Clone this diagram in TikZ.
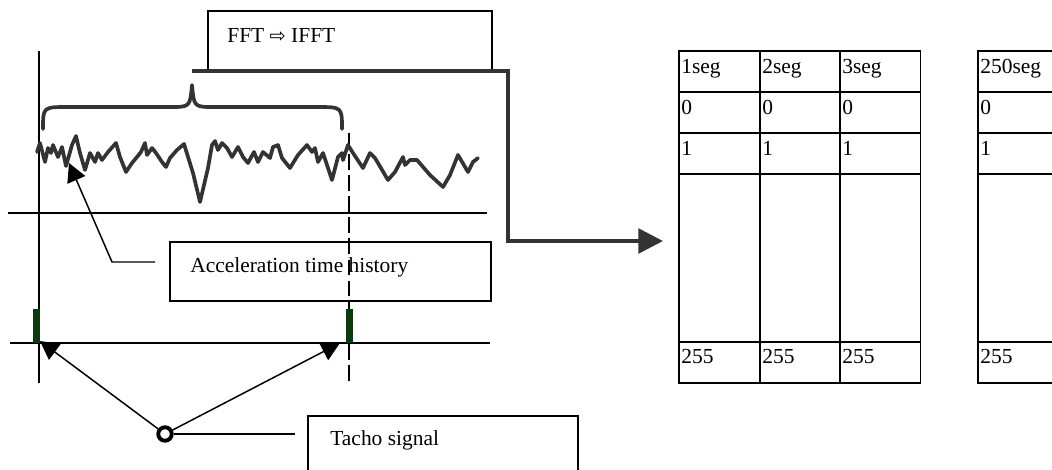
\documentclass[tikz,border=0pt]{standalone}
\usepackage{fontspec}
\setmainfont{Liberation Serif}
\newfontfamily\symfont{DejaVu Sans}
\usetikzlibrary{arrows.meta}
\definecolor{wavegray}{HTML}{333333}
\definecolor{tachogreen}{HTML}{0B3A0B}
\tikzset{
  box/.style={draw, line width=0.9pt, anchor=north west, inner sep=0pt},
  lbl/.style={anchor=base west, inner sep=0pt, font=\fontsize{12.2pt}{14pt}\selectfont},
  cell/.style={draw, line width=1.1pt},
  axis/.style={line width=0.85pt},
  wave/.style={wavegray, line width=2.1pt, line join=round, line cap=round},
  flow/.style={wavegray, line width=2.1pt, -{Triangle[length=14pt,width=14pt]}},
  pointer/.style={line width=0.85pt, -{Triangle[length=10.5pt,width=11pt]}}
}
\begin{document}
\begin{tikzpicture}[x=0.02cm, y=-0.02cm]
    \clip (0,0) rectangle (1052,470);
    % Time history axes
    \draw[axis] (39,51) -- (39,383);
    \draw[axis] (8,213) -- (487,213);
    \draw[axis] (10,343) -- (490,343);
    \draw[axis, dashed, dash pattern=on 9pt off 3pt] (349,133) -- (349,382);
    \draw[wave] plot coordinates {(37,152) (40,143) (45,162) (48,148) (51,153) (53,145) (58,157) (62,147) (66,166) (72,145) (76,136) (80,153) (85,170) (90,153) (95,162) (98,153) (102,160) (108,152) (116,143) (120,157) (126,172) (132,163) (137,157) (141,152) (145,143) (147,155) (152,148) (156,153) (162,162) (166,167) (170,158) (177,150) (184,144) (193,173) (200,202) (208,168) (212,145) (215,141) (218,150) (222,143) (227,148) (232,157) (238,147) (243,157) (248,163) (254,152) (258,162) (263,152) (270,158) (273,147) (278,145) (282,158) (290,168) (298,155) (307,145) (312,152) (315,148) (318,162) (323,153) (332,180) (338,157) (342,153) (343,160) (348,145) (353,153) (363,168) (370,153) (375,158) (388,180) (395,172) (403,157) (405,165) (410,160) (417,160) (430,175) (443,187) (450,175) (458,155) (468,172) (473,162) (478,158)};
    % Tacho pulses
    \foreach \x in {33,346} {\fill[tachogreen] (\x,309) rectangle ++(7,34);}
    % Segment brace
    \draw[wave] (43,129) .. controls (43,107) .. (68,107) -- (170,107) .. controls (190,107) .. (192,85)
        .. controls (194,107) .. (214,107) -- (317,107) .. controls (342,107) .. (342,129);
    % FFT box
    \node[box, minimum width=5.68cm, minimum height=1.18cm] (fftbox) at (207,10) {};
    \node[lbl] (fftlbl) at (227,42) {FFT {\symfont\fontsize{11pt}{12pt}\selectfont ⇨} IFFT};
    \coordinate (fftout) at (192,71);
    \coordinate (bend) at (508,241);
    \coordinate (segin) at (663,241);
    \draw[flow] (fftout) -| (bend) -- (segin);
    % Acceleration label
    \node[box, minimum width=6.42cm, minimum height=1.18cm] (accbox) at (169,241) {};
    \node[lbl] (acclbl) at (190,272) {Acceleration time history};
    \coordinate (accpt) at (155,262);
    \coordinate (acckink) at (112,262);
    \coordinate (acctip) at (69,163);
    \draw[pointer] (accpt) -- (acckink) -- (acctip);
    % Tacho label
    \node[box, minimum width=5.4cm, minimum height=1.6cm] (tachobox) at (307,415) {};
    \node[lbl] (tacholbl) at (330,445) {Tacho signal};
    \node[circle, draw, line width=2.2pt, minimum size=0.27cm, inner sep=0pt] (tacho) at (165,434) {};
    \coordinate (pulse1) at (40,341);
    \coordinate (pulse2) at (340,343);
    \coordinate (tachoend) at (295,434);
    \draw[pointer] (tacho) -- (pulse1);
    \draw[pointer] (tacho) -- (pulse2);
    \draw[axis] (tacho) -- (tachoend);
    % Segment tables
    \foreach \x/\s in {679/1seg, 760/2seg, 840/3seg, 978/250seg} {
        \foreach \ya/\yb in {51/92, 92/133, 133/174, 174/342, 342/383}
            \draw[cell] (\x,\ya) rectangle (\x+80.5,\yb);
        \node[lbl] (head\x) at (\x+2,73) {\s};
        \node[lbl] (zero\x) at (\x+2,114) {0};
        \node[lbl] (one\x) at (\x+2,155) {1};
        \node[lbl] (last\x) at (\x+2,363) {255};
    }
\end{tikzpicture}
\end{document}
